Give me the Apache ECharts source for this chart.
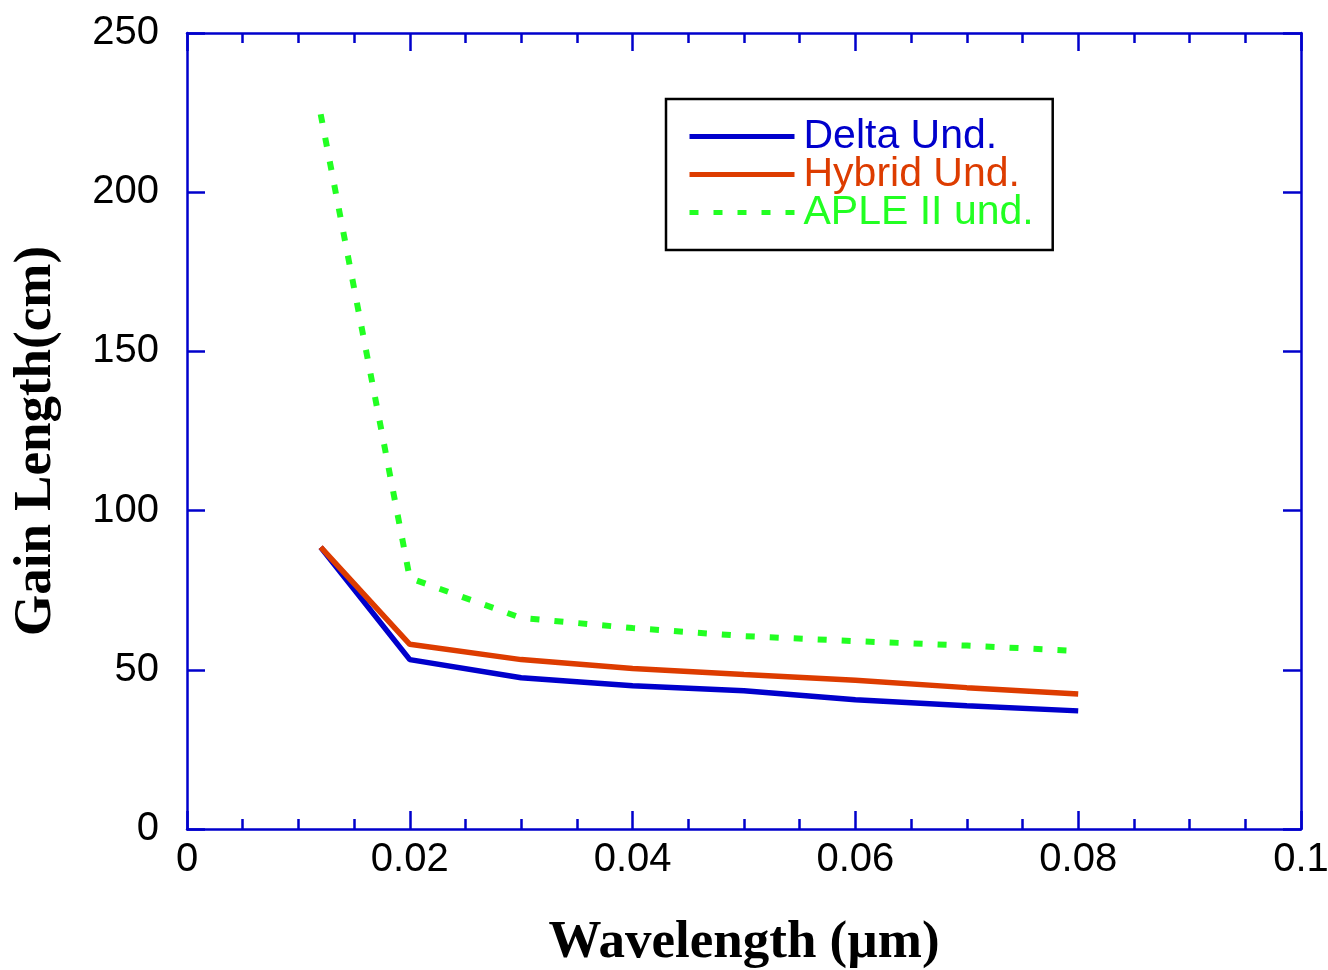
<!DOCTYPE html>
<html>
<head>
<meta charset="utf-8">
<script src="https://cdn.jsdelivr.net/npm/echarts@6/dist/echarts.min.js"></script>
<style>
  html, body { margin: 0; padding: 0; background: #fff; }
  #chart { width: 1328px; height: 970px; }
</style>
</head>
<body>
<div id="chart"></div>
<script>
// wavelength in µm
const wavelengths = [0.012, 0.02, 0.03, 0.04, 0.05, 0.06, 0.07, 0.08]
const deltaUnd = [88.5, 53.2, 47.5, 45.0, 43.4, 40.6, 38.7, 37.1]
const hybridUnd = [88.5, 58.0, 53.2, 50.4, 48.5, 46.7, 44.4, 42.4]
const apleUnd = [224.5, 78.8, 66.3, 63.1, 60.6, 59.0, 57.6, 55.9]

const axisBlue = '#0000cc'

function pairs(ys) {
    return wavelengths.map((x, i) => [x, ys[i]])
}

const tickFont = { fontFamily: 'Liberation Sans', fontSize: 40, color: '#000' }
const nameFont = { fontFamily: 'Liberation Serif', fontSize: 53, fontWeight: 'bold', color: '#000' }

function xAxisBase(pos) {
    return {
        type: 'value',
        position: pos,
        min: 0,
        max: 0.1,
        interval: 0.02,
        axisLine: { show: true, onZero: false, lineStyle: { color: axisBlue, width: 2.5 } },
        axisTick: { show: true, inside: true, length: 18, lineStyle: { color: axisBlue, width: 2.5 } },
        minorTick: { show: true, splitNumber: 4, length: 10, lineStyle: { color: axisBlue, width: 2.5 } },
        splitLine: { show: false },
        minorSplitLine: { show: false }
    }
}

function yAxisBase(pos) {
    return {
        type: 'value',
        position: pos,
        min: 0,
        max: 250,
        interval: 50,
        axisLine: { show: true, onZero: false, lineStyle: { color: axisBlue, width: 2.5 } },
        axisTick: { show: true, inside: true, length: 18, lineStyle: { color: axisBlue, width: 2.5 } },
        splitLine: { show: false }
    }
}

const chart = echarts.init(document.getElementById('chart'))

chart.setOption({
    animation: false,
    backgroundColor: '#fff',
    grid: { left: 187, right: 27, top: 33, bottom: 141, containLabel: false, outerBoundsMode: 'none' },
    legend: {
        orient: 'vertical',
        left: 666,
        top: 99,
        padding: [17, 19, 17, 21],
        itemGap: -3,
        itemWidth: 105,
        itemHeight: 20,
        borderColor: '#000',
        borderWidth: 2.5,
        backgroundColor: '#fff',
        itemStyle: { opacity: 0 },
        lineStyle: { width: 5 },
        textStyle: { fontFamily: 'Liberation Sans', fontSize: 41, padding: [0, 0, 0, 4] },
        data: [
            { name: 'Delta Und.', textStyle: { color: '#0000cc' } },
            { name: 'Hybrid Und.', textStyle: { color: '#dd3c00' } },
            { name: 'APLE II und.', textStyle: { color: '#22ff22' } }
        ]
    },
    xAxis: [
        Object.assign(xAxisBase('bottom'), {
            name: 'Wavelength (µm)',
            nameLocation: 'middle',
            nameGap: 88,
            nameTextStyle: nameFont,
            axisLabel: Object.assign({ margin: 11, formatter: v => String(v) }, tickFont)
        }),
        Object.assign(xAxisBase('top'), { axisLabel: { show: false } })
    ],
    yAxis: [
        Object.assign(yAxisBase('left'), {
            name: 'Gain Length(cm)',
            nameLocation: 'middle',
            nameGap: 124,
            nameTextStyle: Object.assign({ padding: [0, 20, 0, 0] }, nameFont),
            axisLabel: Object.assign({ margin: 28 }, tickFont)
        }),
        Object.assign(yAxisBase('right'), { axisLabel: { show: false } })
    ],
    series: [
        {
            name: 'Delta Und.',
            type: 'line',
            symbol: 'none',
            data: pairs(deltaUnd),
            lineStyle: { color: '#0000cc', width: 5.5 },
            itemStyle: { color: '#0000cc' }
        },
        {
            name: 'Hybrid Und.',
            type: 'line',
            symbol: 'none',
            data: pairs(hybridUnd),
            lineStyle: { color: '#dd3c00', width: 5.5 },
            itemStyle: { color: '#dd3c00' }
        },
        {
            name: 'APLE II und.',
            type: 'line',
            symbol: 'none',
            data: pairs(apleUnd),
            lineStyle: { color: '#22ff22', width: 6, type: [9, 15] },
            itemStyle: { color: '#22ff22' }
        }
    ]
})
</script>
</body>
</html>
